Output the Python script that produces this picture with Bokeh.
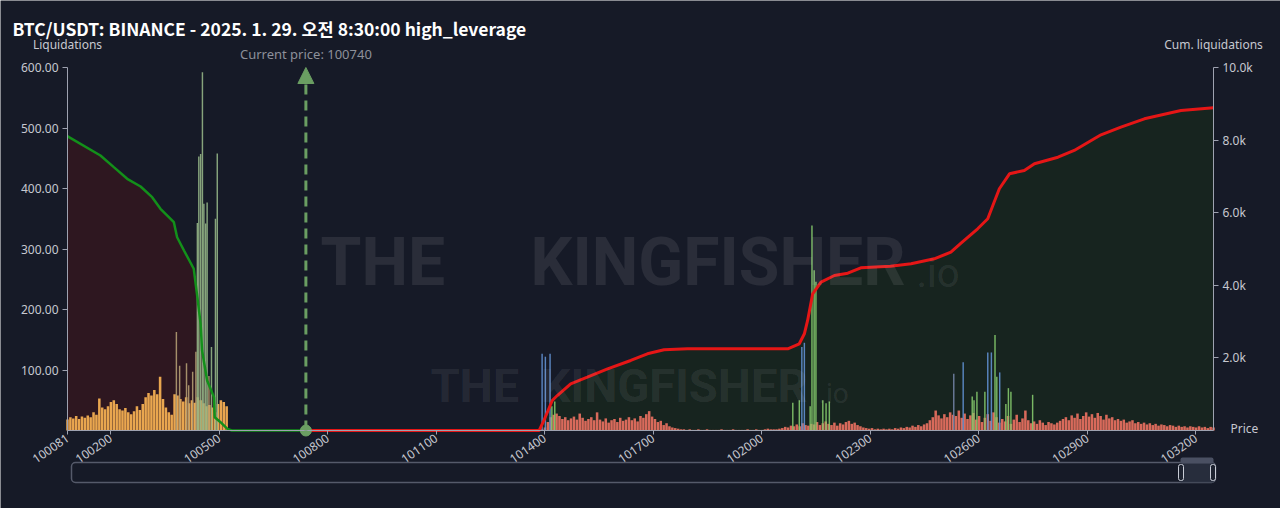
import math
from bokeh.plotting import figure
from bokeh.models import (Range1d, LinearAxis, FixedTicker, NumeralTickFormatter,
                          Label, Arrow, NormalHead)
from bokeh.embed import file_html
from bokeh.resources import INLINE

# ---------------- data ----------------
TITLE = "BTC/USDT: BINANCE - 2025. 1. 29. 오전 8:30:00 high_leverage"
CURRENT_PRICE = 100740
PRICE_MIN, PRICE_MAX = 100081, 103249
LIQ_MAX, CUM_MAX = 600, 10000
BIN = 8

x_ticks = [100081, 100200, 100500, 100800, 101100, 101400, 101700,
           102000, 102300, 102600, 102900, 103200]
left_ticks = [100, 200, 300, 400, 500, 600]
right_ticks = [2000, 4000, 6000, 8000, 10000]

# long liquidations (below current price), 8-USD bins from 100081
long_start = 100081
long_liq = [18, 22, 20, 24, 19, 23, 21, 25, 22, 30,
            26, 53, 38, 35, 40, 47, 50, 44, 35, 33,
            37, 30, 27, 32, 40, 34, 44, 55, 62, 58,
            67, 60, 89, 52, 38, 30, 26, 60, 58, 52,
            48, 55, 45, 50, 46, 55, 50, 45, 40, 42,
            38, 30, 44, 50, 47, 40]

# short liquidations (above current price), 8-USD bins from 101393
short_start = 101393
short_liq = [2, 5, 14, 22, 26, 28, 24, 19, 22, 17,
             20, 23, 18, 28, 21, 16, 19, 22, 17, 30,
             18, 15, 20, 13, 17, 19, 14, 21, 16, 18,
             22, 17, 20, 15, 24, 21, 27, 32, 23, 19,
             14, 16, 9, 12, 7, 5, 4, 3, 2, 2,
             1, 2, 1, 1, 2, 1, 1, 2, 1, 1,
             1, 1, 2, 1, 1, 1, 2, 1, 1, 1,
             1, 2, 1, 1, 2, 1, 1, 2, 3, 2,
             2, 2, 3, 4, 6, 5, 8, 7, 10, 7,
             12, 9, 8, 11, 10, 14, 9, 12, 15, 11,
             9, 13, 8, 12, 10, 14, 16, 11, 13, 9,
             7, 5, 4, 3, 4, 2, 3, 2, 3, 2,
             3, 2, 4, 3, 5, 4, 6, 5, 8, 6,
             9, 7, 10, 12, 17, 22, 33, 25, 20, 27,
             22, 30, 26, 24, 33, 21, 28, 19, 25, 29,
             18, 24, 14, 21, 27, 16, 30, 22, 13, 19,
             15, 24, 11, 18, 26, 14, 20, 33, 17, 12,
             15, 11, 17, 13, 9, 14, 12, 10, 13, 16,
             19, 22, 17, 25, 21, 28, 19, 24, 30, 23,
             27, 21, 29, 24, 18, 26, 20, 22, 17, 19,
             16, 18, 13, 15, 17, 12, 14, 11, 13, 10,
             12, 9, 11, 8, 10, 9, 7, 9, 8, 6,
             8, 6, 7, 5, 7, 6, 5, 7, 5, 6, 4, 6, 5]

# high-leverage spikes
spike_price = [100382, 100391, 100410, 100416, 100427, 100436, 100472,
               100440, 100444, 100449, 100454, 100458, 100463, 100467, 100479, 100490, 100495,
               101393, 101402, 101415, 101420, 101428,
               102086, 102104, 102111, 102118, 102134, 102139, 102145, 102150, 102169, 102178, 102187,
               102531, 102557, 102582, 102587, 102595, 102617, 102625, 102635, 102645, 102650,
               102658, 102675, 102682, 102689, 102749]
spike_liq = [163, 107, 111, 75, 97, 130, 90,
             343, 453, 457, 592, 375, 342, 377, 138, 350, 458,
             127, 122, 127, 40, 48,
             46, 50, 138, 145, 40, 339, 265, 246, 50, 45, 48,
             94, 113, 56, 50, 64, 64, 129, 129, 158, 89,
             96, 44, 70, 64, 59]
spike_kind = ["tan"] * 7 + ["lg"] * 10 + ["b", "b", "b", "g", "g"] + \
             ["g", "g", "b", "b", "g", "g", "g", "g", "g", "g", "g"] + \
             ["s", "b", "g", "g", "g", "g", "b", "b", "g", "g", "b", "g", "g", "g", "g"]

# cumulative liquidations
long_cum_price = [100081, 100085, 100172, 100209, 100246, 100283, 100315, 100338, 100366,
                  100375, 100384, 100403, 100430, 100440, 100449, 100453, 100467, 100486,
                  100488, 100504, 100523, 100535, 100740]
long_cum = [8110, 8080, 7576, 7254, 6934, 6722, 6428, 6108, 5832,
            5739, 5325, 4959, 4455, 3672, 2940, 2204, 1378, 917,
            366, 229, 47, 0, 0]

short_cum_price = [100740, 101385, 101398, 101421, 101435, 101472, 101518, 101574, 101638,
                   101684, 101730, 101795, 102072, 102104, 102118, 102127, 102141, 102164,
                   102201, 102238, 102274, 102356, 102413, 102477, 102523, 102551, 102597,
                   102625, 102639, 102657, 102685, 102726, 102754, 102819, 102864, 102938,
                   102993, 103058, 103159, 103249]
short_cum = [0, 0, 276, 827, 964, 1287, 1468, 1700, 1929,
             2113, 2223, 2251, 2251, 2389, 2664, 3031, 3766, 4086,
             4270, 4334, 4482, 4526, 4593, 4730, 4912, 5160, 5557,
             5832, 6199, 6659, 7072, 7163, 7348, 7529, 7714, 8146,
             8356, 8587, 8816, 8890]

# ---------------- layout geometry (canvas px) ----------------
W, H = 1280, 508
GL, GR, GT, GB = 67, 1213, 67, 430      # plot-area box inside the canvas
ux = (PRICE_MAX - PRICE_MIN) / (GR - GL)
uy = LIQ_MAX / (GB - GT)
uc = CUM_MAX / (GB - GT)


def px2x(px):
    return PRICE_MIN + (px - GL) * ux


def px2y(py):
    return (GB - py) * uy


# ---------------- style ----------------
BG = "#161a27"
AXIS = "#9ea2b0"
TXT = "#c6c8d0"
ORANGE = "#e9a64f"
SALMON = "#d86a5b"
SPIKE_COL = {"tan": "#b39c72", "lg": "#93b486", "g": "#84c96b", "b": "#6190d0", "s": "#7384a6"}
CP_COL = "#6a9e62"

p = figure(width=W, height=H, output_backend="svg", toolbar_location=None,
           x_range=Range1d(px2x(0), px2x(W)), y_range=Range1d(px2y(H), px2y(0)),
           x_axis_location=None, y_axis_location=None, min_border=0,
           background_fill_color=BG, border_fill_color=BG, outline_line_color=None)
p.extra_y_ranges = {"cum": Range1d((GB - H) * uc, GB * uc)}
p.grid.visible = False

# axes, pinned to the plot-area edges
xa = LinearAxis(fixed_location=0, bounds=(PRICE_MIN, PRICE_MAX),
                ticker=FixedTicker(ticks=x_ticks), formatter=NumeralTickFormatter(format="0"))
ya = LinearAxis(fixed_location=PRICE_MIN, bounds=(0, LIQ_MAX),
                ticker=FixedTicker(ticks=left_ticks), formatter=NumeralTickFormatter(format="0.00"))
ra = LinearAxis(fixed_location=PRICE_MAX, bounds=(0, CUM_MAX), y_range_name="cum",
                ticker=FixedTicker(ticks=right_ticks), formatter=NumeralTickFormatter(format="0.0a"))
p.add_layout(xa, "below")
p.add_layout(ya, "left")
p.add_layout(ra, "right")
for ax in (xa, ya, ra):
    ax.axis_line_color = AXIS
    ax.major_tick_line_color = AXIS
    ax.minor_tick_line_color = None
    ax.major_tick_in = 0
    ax.major_tick_out = 5
    ax.major_label_standoff = 4
    ax.major_label_text_color = TXT
    ax.major_label_text_font = "Noto Sans"
    ax.major_label_text_font_size = "12px"
xa.major_label_orientation = 0.61
xa.major_tick_out = 4
xa.major_label_standoff = 2

# area fills under cumulative lines
p.varea(x=long_cum_price, y1=0, y2=long_cum, y_range_name="cum", fill_color="#2e1720")
p.varea(x=short_cum_price, y1=0, y2=short_cum, y_range_name="cum", fill_color="#17241f")

# liquidation bars
long_x = [long_start + BIN * i for i in range(len(long_liq))]
short_x = [short_start + BIN * i for i in range(len(short_liq))]
p.vbar(x=long_x, top=long_liq, width=BIN - 1, fill_color=ORANGE, line_color=None)
p.vbar(x=short_x, top=short_liq, width=BIN - 1, fill_color=SALMON, line_color=None)
p.vbar(x=spike_price, top=spike_liq, width=4,
       fill_color=[SPIKE_COL[k] for k in spike_kind], fill_alpha=0.9, line_color=None)

# watermarks
wm = dict(text_color="#ffffff", text_alpha=0.085, text_baseline="middle")
p.add_layout(Label(x=px2x(320), y=px2y(262), text="THE", text_font="Roboto",
                   text_font_style="bold", text_font_size="66px", **wm))
p.add_layout(Label(x=px2x(530), y=px2y(262), text="KINGFISHER", text_font="Roboto",
                   text_font_style="bold", text_font_size="66px", **wm))
p.add_layout(Label(x=px2x(916), y=px2y(273), text=".io", text_font="Roboto",
                   text_font_size="40px", **wm))
p.add_layout(Label(x=px2x(430), y=px2y(385), text="THE", text_font="Roboto",
                   text_font_style="bold", text_font_size="47px", **wm))
p.add_layout(Label(x=px2x(540), y=px2y(385), text="KINGFISHER", text_font="Roboto",
                   text_font_style="bold", text_font_size="47px", **wm))
p.add_layout(Label(x=px2x(818), y=px2y(393), text=".io", text_font="Roboto",
                   text_font_size="28px", **wm))

# cumulative lines
p.line(long_cum_price, long_cum, y_range_name="cum", line_color="#13901a", line_width=2.5)
p.line(short_cum_price, short_cum, y_range_name="cum", line_color="#e51616", line_width=3)

# current price marker
p.add_layout(Arrow(x_start=CURRENT_PRICE, y_start=0, x_end=CURRENT_PRICE, y_end=LIQ_MAX,
                   line_color=CP_COL, line_width=3, line_dash="10 6",
                   end=NormalHead(size=16, fill_color=CP_COL, line_color=CP_COL)))
p.scatter([CURRENT_PRICE], [0], size=11, fill_color=CP_COL, line_color=CP_COL)
p.add_layout(Label(x=CURRENT_PRICE, y=px2y(53), text="Current price: %d" % CURRENT_PRICE,
                   text_align="center", text_baseline="middle", text_color="#8d909a",
                   text_font="Noto Sans", text_font_size="13px"))

# title and axis names
p.add_layout(Label(x=px2x(12), y=px2y(28), text=TITLE,
                   text_font="Noto Sans CJK KR", text_font_style="bold", text_font_size="17.5px",
                   text_color="#ffffff", text_baseline="middle"))
p.add_layout(Label(x=PRICE_MIN, y=px2y(44), text="Liquidations",
                   text_font="Noto Sans", text_font_size="12px", text_color=TXT,
                   text_align="center", text_baseline="middle"))
p.add_layout(Label(x=PRICE_MAX, y=px2y(44), text="Cum. liquidations",
                   text_font="Noto Sans", text_font_size="12px", text_color=TXT,
                   text_align="center", text_baseline="middle"))
p.add_layout(Label(x=px2x(1230), y=px2y(428), text="Price",
                   text_font="Noto Sans", text_font_size="12px", text_color=TXT,
                   text_align="left", text_baseline="middle"))

# data-zoom slider strip (decoration)
p.quad(left=px2x(71), right=px2x(1215), top=px2y(462), bottom=px2y(482),
       fill_color=None, line_color="#555a6a", line_width=1.5, border_radius=4)
p.quad(left=px2x(1180), right=px2x(1213), top=px2y(462), bottom=px2y(482),
       fill_color="#2c3242", fill_alpha=0.8, line_color=None)
p.quad(left=px2x(1180), right=px2x(1213), top=px2y(457), bottom=px2y(463),
       fill_color="#4a5062", line_color=None, border_radius=2)
p.quad(left=[px2x(1178), px2x(1210)], right=[px2x(1183), px2x(1215)],
       top=[px2y(464)] * 2, bottom=[px2y(480)] * 2, fill_color="#1e2330",
       line_color="#c8ccd6", line_width=1, border_radius=2)

open("out.html", "w").write(file_html(p, INLINE))
